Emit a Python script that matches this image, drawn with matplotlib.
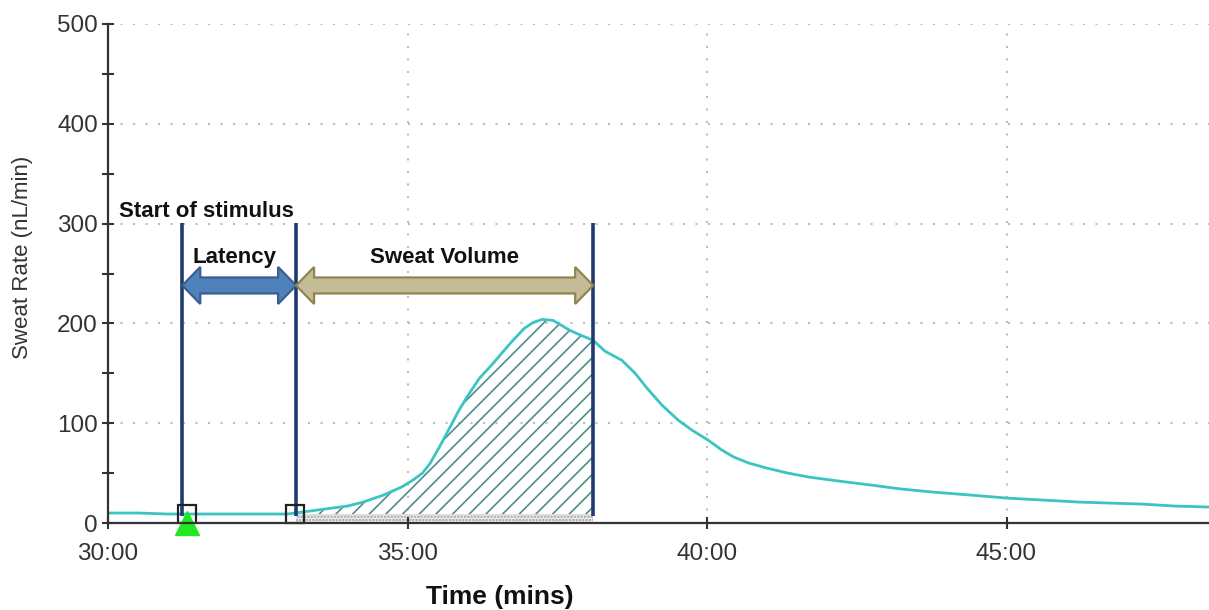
import numpy as np
import matplotlib
matplotlib.use("Agg")
import matplotlib.pyplot as plt
from matplotlib.patches import Polygon
from matplotlib.ticker import MultipleLocator

# ---------------- data ----------------
time_min = [30.0, 30.5, 31.0, 31.5, 32.0, 32.5, 33.0, 33.12, 33.5, 34.0, 34.26,
            34.6, 34.9, 35.09, 35.25, 35.38, 35.55, 35.71, 35.85, 35.99, 36.2,
            36.43, 36.6, 36.76, 36.95, 37.1, 37.25, 37.43, 37.6, 37.71, 37.9,
            38.1, 38.3, 38.58, 38.8, 39.0, 39.25, 39.52, 39.75, 40.02, 40.25,
            40.45, 40.7, 41.0, 41.35, 41.7, 42.2, 42.74, 43.25, 43.77, 44.4,
            45.0, 45.6, 46.2, 46.7, 47.25, 47.8, 48.38]
sweat_rate = [10, 10, 9, 9, 9, 9, 9, 10, 13, 17, 21,
              28, 36, 43, 50, 60, 78, 96, 112, 126, 145,
              160, 172, 183, 195, 201, 204, 203, 197, 193, 188,
              183, 172, 163, 150, 135, 118, 103, 93, 83, 73,
              66, 60, 55, 50, 46, 42, 38, 34, 31, 28,
              25, 23, 21, 20, 19, 17, 16]

event_times = [31.24, 33.14, 38.10]      # stimulus start, latency end, volume end
event_bottom = 7
event_top = 301
marker_times = [31.32, 33.12]
marker_level = 9
stimulus_time = 31.32
baseline_level = 9
arrow_level = 238

xticks = [30, 35, 40, 45]
xtick_labels = ["30:00", "35:00", "40:00", "45:00"]
yticks = [0, 100, 200, 300, 400, 500]
ytick_labels = ["0", "100", "200", "300", "400", "500"]

label_start = "Start of stimulus"
label_latency = "Latency"
label_volume = "Sweat Volume"
xlabel = "Time (mins)"
ylabel = "Sweat Rate (nL/min)"

# ---------------- figure ----------------
plt.rcParams['font.family'] = ['Liberation Sans', 'DejaVu Sans']
plt.rcParams['hatch.linewidth'] = 1.2

W, H = 1209, 610
fig = plt.figure(figsize=(W / 100, H / 100), dpi=100)
ax_l, ax_b, ax_w, ax_h = 108, 87, 1101, 499
ax = fig.add_axes([ax_l / W, ax_b / H, ax_w / W, ax_h / H])

xmin, xmax = 30.0, 30.0 + ax_w / 59.9
ymin, ymax = 0, 500
ax.set_xlim(xmin, xmax)
ax.set_ylim(ymin, ymax)

# grid
grid_kw = dict(color='#BDBDBD', linewidth=1.5, linestyle=(0, (1, 5)), zorder=0)
for yv in yticks[1:]:
    ax.axhline(yv, **grid_kw)
for xv in xticks[1:]:
    ax.axvline(xv, **grid_kw)

t = np.array(time_min)
r = np.array(sweat_rate, dtype=float)

# shaded sweat volume region
x0, x1 = event_times[1], event_times[2]
inside = (t > x0) & (t < x1)
xr = np.concatenate([[x0], t[inside], [x1]])
yr = np.concatenate([[np.interp(x0, t, r)], r[inside], [np.interp(x1, t, r)]])
ax.fill_between(xr, baseline_level, yr, facecolor='none', edgecolor='#4E8C8C',
                hatch='//', linewidth=0, zorder=1)
ax.fill_between([x0, x1], 0, baseline_level, facecolor='#EDEDED',
                edgecolor='#A0A0A0', hatch='.....', linewidth=0, zorder=1)

# sweat rate trace
ax.plot(t, r, color='#3CC3C3', linewidth=2.0, zorder=3)

# event lines
for xe in event_times:
    ax.plot([xe, xe], [event_bottom, event_top], color='#1F3B70',
            linewidth=2.6, zorder=4, solid_capstyle='butt')

# markers
ax.plot(marker_times, [marker_level] * len(marker_times), linestyle='none',
        marker='s', markersize=13.5, markerfacecolor='none',
        markeredgecolor='#222222', markeredgewidth=1.6, zorder=5, clip_on=False)
ax.plot([stimulus_time], [0], linestyle='none', marker='^', markersize=17,
        color='#22E822', zorder=6, clip_on=False)

# double-headed arrows
px_x = (xmax - xmin) / ax_w
px_y = (ymax - ymin) / ax_h


def double_arrow(xa, xb, y, face, edge):
    hl = 18 * px_x
    hh = 18.5 * px_y
    sh = 8 * px_y
    verts = [(xa, y), (xa + hl, y + hh), (xa + hl, y + sh), (xb - hl, y + sh),
             (xb - hl, y + hh), (xb, y), (xb - hl, y - hh), (xb - hl, y - sh),
             (xa + hl, y - sh), (xa + hl, y - hh)]
    ax.add_patch(Polygon(verts, closed=True, facecolor=face, edgecolor=edge,
                         linewidth=1.6, zorder=5, joinstyle='miter'))


double_arrow(event_times[0], event_times[1], arrow_level, '#4F81BD', '#3A5F8E')
double_arrow(event_times[1], event_times[2], arrow_level, '#C4BC96', '#8E8552')

# annotation text
ax.text(30.18, 307, label_start, fontsize=16, fontweight='bold',
        color='#111111', ha='left', va='baseline', zorder=7)
ax.text((event_times[0] + event_times[1]) / 2 - 0.07, 261, label_latency,
        fontsize=16, fontweight='bold', color='#111111', ha='center',
        va='baseline', zorder=7)
ax.text(35.61, 261, label_volume, fontsize=16, fontweight='bold',
        color='#111111', ha='center', va='baseline', zorder=7)

# axes styling
for s in ['top', 'right']:
    ax.spines[s].set_visible(False)
for s in ['left', 'bottom']:
    ax.spines[s].set_color('#333333')
    ax.spines[s].set_linewidth(1.6)
    ax.spines[s].set_zorder(8)

ax.set_xticks(xticks)
ax.set_xticklabels(xtick_labels)
ax.set_yticks(yticks)
ax.set_yticklabels(ytick_labels)
ax.yaxis.set_minor_locator(MultipleLocator(50))
ax.tick_params(axis='both', which='both', direction='inout', length=8.5,
               width=1.5, color='#333333', labelcolor='#333333', labelsize=17.5)
ax.tick_params(axis='x', pad=10)
ax.tick_params(axis='y', pad=3)

ax.set_xlabel(xlabel, fontsize=19, fontweight='bold', color='#111111')
ax.xaxis.set_label_coords((500 - ax_l) / ax_w, (523 - 597) / ax_h)
ax.xaxis.label.set_va('center')
ax.set_ylabel(ylabel, fontsize=16, color='#333333')
ax.yaxis.set_label_coords((23 - ax_l) / ax_w, (523 - 257) / ax_h)
ax.yaxis.label.set_va('center')

fig.savefig('out.png', dpi=100)
